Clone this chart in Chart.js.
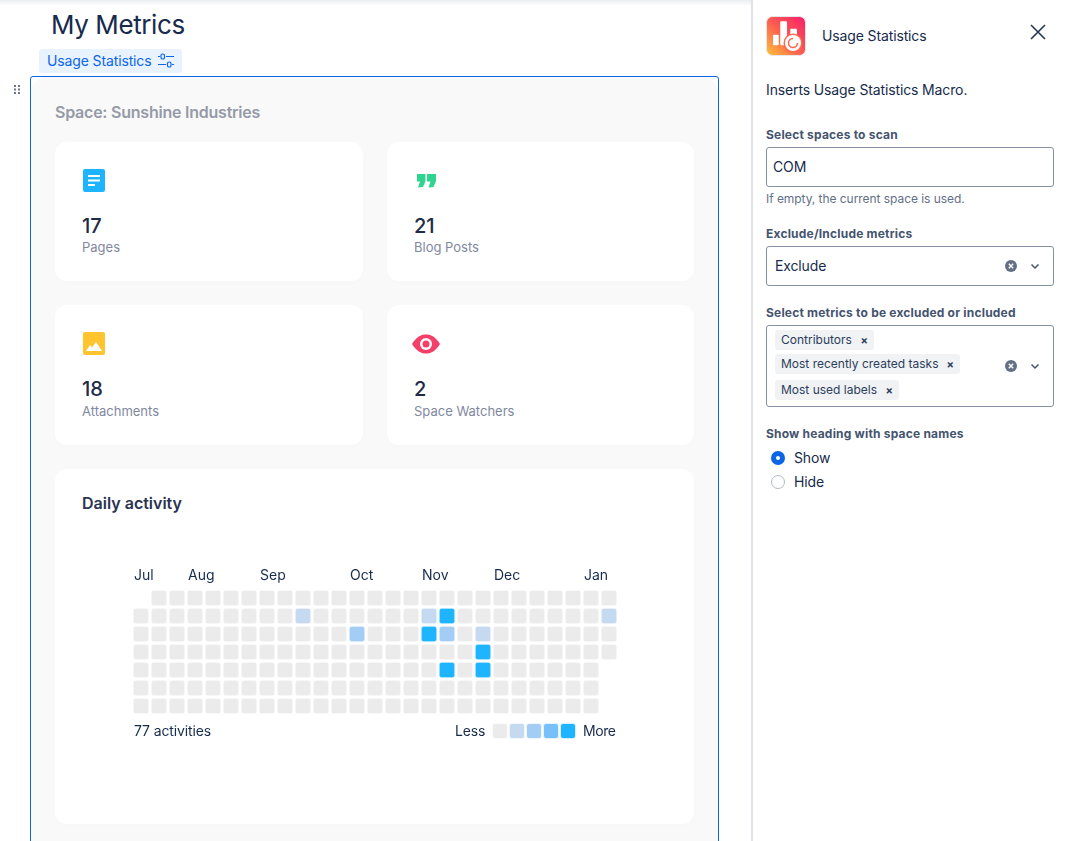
<!DOCTYPE html>
<html>
<head>
<meta charset="utf-8">
<title>My Metrics</title>
<script src="https://cdn.jsdelivr.net/npm/chart.js"></script>
<style>
html, body { margin: 0; padding: 0; background: #fff; overflow: hidden; }
body { width: 1067px; height: 841px; position: relative; font-family: Inter, "Noto Sans", sans-serif; color: #172B4D; }
.abs, .t { position: absolute; }
.t { white-space: nowrap; line-height: 20px; font-size: 14px; letter-spacing: -0.13px; }
.topshade { left: 0; top: 0; width: 1067px; height: 6px; background: linear-gradient(#eceef1, rgba(255,255,255,0)); }
.outline { left: 30px; top: 76px; width: 687px; height: 780px; border: 1px solid #0C66E4; border-radius: 3px; }
.panel { left: 31px; top: 77px; width: 687px; height: 780px; background: #F9F9F9; border-radius: 16px 16px 0 0; }
.card { background: #fff; border-radius: 12px; box-shadow: 0 2px 10px rgba(0,0,0,0.012); }
.num { font-size: 20px; font-weight: 500; color: #222B45; letter-spacing: 0; }
.lbl { font-size: 13px; color: #7F889F; letter-spacing: 0; }
.side { left: 751px; top: 0; width: 316px; height: 841px; background: #fff; border-left: 2px solid #DFE3E8; box-sizing: border-box; }
.fl { font-size: 12px; font-weight: 700; color: #44546F; letter-spacing: 0.2px; }
.box { border: 1px solid #8590A2; border-radius: 3px; box-sizing: border-box; background: #fff; }
.chip { background: #F1F2F4; border-radius: 3px; height: 20px; }
.chip span { position: absolute; left: 6px; top: 0; font-size: 12px; line-height: 20px; color: #2C3E5D; white-space: nowrap; }
.chip b { position: absolute; right: 6px; top: 0; font-size: 11px; line-height: 20px; color: #2C3E5D; }
#heat { position: absolute; left: 100px; top: 560px; }
</style>
</head>
<body>
<div class="abs topshade"></div>
<div class="t" style="left:51px;top:8px;font-size:26px;line-height:34px;color:#172B4D;letter-spacing:-0.4px;">My Metrics</div>
<div class="abs" style="left:39px;top:49px;width:143px;height:24px;background:#E9F2FF;border-radius:3px;"></div>
<div class="t" style="left:47px;top:51px;color:#0C66E4;">Usage Statistics</div>
<svg class="abs" style="left:157px;top:52px" width="18" height="17" viewBox="0 0 18 17" fill="none" stroke="#0C66E4" stroke-width="1.2">
  <path d="M1 4.500h2M9 4.500h8M1 12.500h8M15 12.500h2"/><rect x="4" y="2" width="3.500" height="5" rx="1.600"/><rect x="10.500" y="10" width="3.500" height="5" rx="1.600"/>
</svg>
<svg class="abs" style="left:13px;top:84px" width="8" height="11" fill="#6B778C">
  <rect x="1" y="1" width="2" height="2"/><rect x="5" y="1" width="2" height="2"/><rect x="1" y="4.500" width="2" height="2"/><rect x="5" y="4.500" width="2" height="2"/><rect x="1" y="8" width="2" height="2"/><rect x="5" y="8" width="2" height="2"/>
</svg>

<div class="abs panel"></div>
<div class="abs outline"></div>
<div class="t" style="left:55px;top:102px;font-size:16px;font-weight:600;color:#959AA7;letter-spacing:-0.23px;">Space: Sunshine Industries</div>

<div class="abs card" style="left:55px;top:142px;width:308px;height:139px;"></div>
<div class="abs card" style="left:387px;top:142px;width:307px;height:139px;"></div>
<div class="abs card" style="left:55px;top:305px;width:308px;height:140px;"></div>
<div class="abs card" style="left:387px;top:305px;width:307px;height:140px;"></div>
<div class="abs card" style="left:55px;top:469px;width:639px;height:355px;"></div>

<svg class="abs" style="left:82px;top:169px" width="24" height="24"><rect x="1" width="22" height="23" rx="2" fill="#1FB4FF"/><path d="M6 7h12M6 11.500h12M6 16h7" stroke="#fff" stroke-width="2"/></svg>
<div class="t num" style="left:82px;top:216px;">17</div>
<div class="t lbl" style="left:82px;top:237px;">Pages</div>

<svg class="abs" style="left:414px;top:172px" width="24" height="18"><path fill="#2FD48F" d="M3 2h8.500v7l-2.500 6-5 .5 2-6H3zM13 2h9v7l-2.500 6-5 .5 2-6H13z"/></svg>
<div class="t num" style="left:414px;top:216px;">21</div>
<div class="t lbl" style="left:414px;top:237px;">Blog Posts</div>

<svg class="abs" style="left:82px;top:332px" width="24" height="24"><rect x="1" width="22" height="23" rx="2" fill="#FFC42E"/><path fill="#fff" d="M4 19l4-6 2 2.500 4-5.500 6 9z"/></svg>
<div class="t num" style="left:82px;top:379px;">18</div>
<div class="t lbl" style="left:82px;top:401px;">Attachments</div>

<svg class="abs" style="left:412px;top:334px" width="28" height="20"><path fill="#F43F68" d="M0 10C5 2 9.500 0.500 14 0.500S23 2 28 10c-5 8-9.500 9.500-14 9.500S5 18 0 10z"/><circle cx="14" cy="10" r="6" fill="#fff"/><circle cx="14" cy="10" r="3.500" fill="#F43F68"/></svg>
<div class="t num" style="left:414px;top:379px;">2</div>
<div class="t lbl" style="left:414px;top:401px;">Space Watchers</div>

<div class="t" style="left:82px;top:493px;font-size:16px;font-weight:600;color:#2A3350;letter-spacing:0;">Daily activity</div>
<canvas id="heat" width="560" height="170"></canvas>
<div class="t" style="left:134px;top:721px;">77 activities</div>
<div class="t" style="left:455px;top:721px;">Less</div>
<div id="legend"></div>
<div class="t" style="left:583px;top:721px;letter-spacing:-0.45px;">More</div>

<div class="abs side"></div>
<svg class="abs" style="left:766px;top:16px" width="40" height="40" viewBox="0 0 40 40">
  <defs><linearGradient id="g" x1="1" y1="0" x2="0" y2="1"><stop offset="0" stop-color="#F81E6B"/><stop offset="0.5" stop-color="#FB5B52"/><stop offset="1" stop-color="#FFC23A"/></linearGradient></defs>
  <rect x="0.500" y="0.500" width="39" height="39" rx="6" fill="url(#g)" stroke="#E6E8EC"/>
  <rect x="7" y="18.700" width="5.700" height="10.600" rx="1" fill="#fff"/><rect x="14.300" y="5.300" width="6.700" height="24" rx="1" fill="#fff"/><rect x="24.300" y="12.700" width="6.700" height="6.600" rx="1" fill="#fff"/>
  <circle cx="27" cy="27" r="9.500" fill="#FB6A50"/><circle cx="27" cy="27" r="8" fill="#fff"/><path d="M27 22.500a4.500 4.500 0 1 0 4.500 4.500" fill="none" stroke="#FB6A50" stroke-width="1.600"/>
</svg>
<div class="t" style="left:822px;top:26px;">Usage Statistics</div>
<svg class="abs" style="left:1030px;top:24px" width="16" height="16" stroke="#253858" stroke-width="1.600" fill="none"><path d="M1 1l14 14M15 1L1 15"/></svg>
<div class="t" style="left:766px;top:80px;">Inserts Usage Statistics Macro.</div>

<div class="t fl" style="left:766px;top:125px;">Select spaces to scan</div>
<div class="abs box" style="left:766px;top:147px;width:288px;height:40px;"></div>
<div class="t" style="left:773px;top:157px;">COM</div>
<div class="t" style="left:766px;top:189px;font-size:12px;color:#626F86;letter-spacing:-0.05px;">If empty, the current space is used.</div>

<div class="t fl" style="left:766px;top:224px;">Exclude/Include metrics</div>
<div class="abs box" style="left:766px;top:246px;width:288px;height:40px;"></div>
<div class="t" style="left:775px;top:256px;">Exclude</div>

<div class="t fl" style="left:766px;top:303px;">Select metrics to be excluded or included</div>
<div class="abs box" style="left:766px;top:325px;width:288px;height:82px;"></div>
<div class="abs chip" style="left:775px;top:330px;width:99px;"><span>Contributors</span><b>×</b></div>
<div class="abs chip" style="left:775px;top:354px;width:185px;"><span>Most recently created tasks</span><b>×</b></div>
<div class="abs chip" style="left:775px;top:380px;width:124px;"><span>Most used labels</span><b>×</b></div>

<svg class="abs" style="left:1004px;top:259px" width="40" height="14"><circle cx="7" cy="7" r="6" fill="#626F86"/><path d="M4.800 4.800l4.400 4.400M9.200 4.800l-4.400 4.400" stroke="#fff" stroke-width="1.400"/><path d="M27.500 5.500l3.500 3.500 3.500-3.500" fill="none" stroke="#44546F" stroke-width="1.500"/></svg>
<svg class="abs" style="left:1004px;top:359px" width="40" height="14"><circle cx="7" cy="7" r="6" fill="#626F86"/><path d="M4.800 4.800l4.400 4.400M9.200 4.800l-4.400 4.400" stroke="#fff" stroke-width="1.400"/><path d="M27.500 5.500l3.500 3.500 3.500-3.500" fill="none" stroke="#44546F" stroke-width="1.500"/></svg>

<div class="t fl" style="left:766px;top:424px;">Show heading with space names</div>
<svg class="abs" style="left:770px;top:450px" width="16" height="40"><circle cx="8" cy="8" r="7" fill="#0C66E4"/><circle cx="8" cy="8" r="2" fill="#fff"/><circle cx="8" cy="32" r="6.500" fill="#fff" stroke="#B3B9C4"/></svg>
<div class="t" style="left:794px;top:448px;">Show</div>
<div class="t" style="left:794px;top:472px;">Hide</div>

<script>
// Week columns along the top, one slot per week
const weekLabels = ['Jul', '', '', 'Aug', '', '', '', 'Sep', '', '', '', '', 'Oct', '', '', '', 'Nov', '', '', '', 'Dec', '', '', '', '', 'Jan', ''];

// Activity level per weekday row, null where the calendar has no day
const row0 = [null, 0, 0, 0, 0, 0, 0, 0, 0, 0, 0, 0, 0, 0, 0, 0, 0, 0, 0, 0, 0, 0, 0, 0, 0, 0, 0];
const row1 = [0, 0, 0, 0, 0, 0, 0, 0, 0, 1, 0, 0, 0, 0, 0, 0, 1, 4, 0, 0, 0, 0, 0, 0, 0, 0, 1];
const row2 = [0, 0, 0, 0, 0, 0, 0, 0, 0, 0, 0, 0, 2, 0, 0, 0, 4, 2, 0, 1, 0, 0, 0, 0, 0, 0, 0];
const row3 = [0, 0, 0, 0, 0, 0, 0, 0, 0, 0, 0, 0, 0, 0, 0, 0, 0, 0, 0, 4, 0, 0, 0, 0, 0, 0, 0];
const row4 = [0, 0, 0, 0, 0, 0, 0, 0, 0, 0, 0, 0, 0, 0, 0, 0, 0, 4, 0, 4, 0, 0, 0, 0, 0, 0, null];
const row5 = [0, 0, 0, 0, 0, 0, 0, 0, 0, 0, 0, 0, 0, 0, 0, 0, 0, 0, 0, 0, 0, 0, 0, 0, 0, 0, null];
const row6 = [0, 0, 0, 0, 0, 0, 0, 0, 0, 0, 0, 0, 0, 0, 0, 0, 0, 0, 0, 0, 0, 0, 0, 0, 0, 0, null];
const rows = [row0, row1, row2, row3, row4, row5, row6];

const levelColors = ['#EBEBEB', '#C5D9F0', '#A4CDF5', '#77C0FA', '#1FB4FF'];
const levelEdges = ['#EBEBEB33', '#C5D9F033', '#A4CDF533', '#77C0FA33', '#1FB4FF33'];

// Less / More swatches
const legend = document.getElementById('legend');
levelColors.forEach((color, i) => {
    const swatch = document.createElement('div');
    swatch.className = 'abs';
    swatch.style.cssText = `left:${493 + i * 16.9}px;top:724px;width:14px;height:14px;border-radius:2px;background:${color};box-shadow:0 0 0 1px ${levelEdges[i]}`;
    legend.appendChild(swatch);
});

new Chart(document.getElementById('heat'), {
    type: 'bar',
    data: {
        labels: weekLabels,
        // each row is a floating bar band on the reversed weekday axis
        datasets: rows.map((levels, r) => ({
            label: 'Row ' + r,
            data: levels.map(v => v === null ? null : [r + 0.055, r + 0.945]),
            backgroundColor: levels.map(v => v === null ? 'transparent' : levelColors[v]),
            borderColor: levels.map(v => v === null ? 'transparent' : levelEdges[v]),
            borderWidth: 1,
            borderRadius: 3,
            borderSkipped: false,
            barThickness: 16
        }))
    },
    options: {
        responsive: false,
        maintainAspectRatio: false,
        animation: false,
        layout: { padding: { left: 32, right: 42, top: 0, bottom: 15 } },
        plugins: { legend: { display: false }, tooltip: { enabled: false } },
        scales: {
            x: {
                position: 'top',
                stacked: true,
                grid: { display: false, drawTicks: false },
                border: { display: false },
                afterFit: scale => { scale.height = 29; },
                ticks: {
                    autoSkip: false,
                    maxRotation: 0,
                    align: 'start',
                    labelOffset: -7,
                    padding: 5,
                    color: '#172B4D',
                    font: { family: 'Inter', size: 14 }
                }
            },
            y: {
                display: false,
                reverse: true,
                min: 0,
                max: 7
            }
        }
    }
});
</script>
</body>
</html>
